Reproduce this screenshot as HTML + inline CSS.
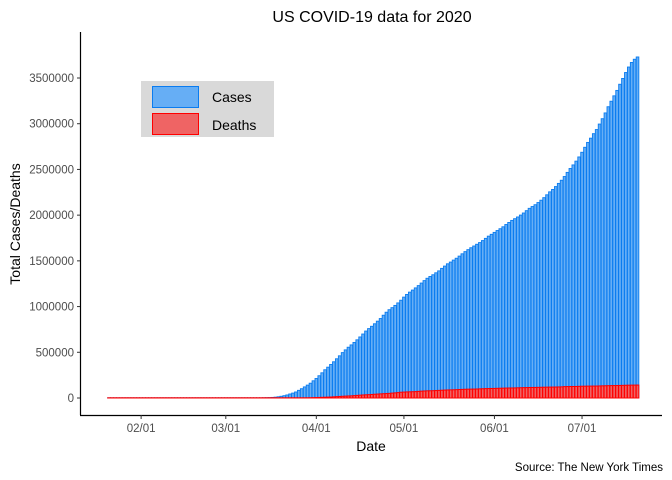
<!DOCTYPE html>
<html><head><meta charset="utf-8"><style>
body{margin:0;background:#fff}
svg{display:block;font-family:"Liberation Sans",sans-serif}
</style></head><body>
<svg id="chart" width="672" height="480">
<text x="372" y="22" text-anchor="middle" font-size="16" fill="#000">US COVID-19 data for 2020</text>
<g id="bars"></g>
<line x1="80.5" y1="32" x2="80.5" y2="415" stroke="#000" stroke-width="1.2"/>
<line x1="80" y1="415.5" x2="662" y2="415.5" stroke="#000" stroke-width="1.2"/>
<g id="yticks"></g>
<g id="xticks"></g>
<text transform="translate(20,224) rotate(-90)" text-anchor="middle" font-size="14">Total Cases/Deaths</text>
<text x="371" y="451" text-anchor="middle" font-size="14">Date</text>
<text x="663" y="471" text-anchor="end" font-size="11.5">Source: The New York Times</text>
<g>
<rect x="141" y="81" width="133" height="56" fill="#d9d9d9"/>
<rect x="152.5" y="86.5" width="46" height="21" fill="#66aef5" stroke="#0a7cf0"/>
<text x="212" y="102" font-size="14">Cases</text>
<rect x="152.5" y="113.5" width="46" height="21" fill="#ef6464" stroke="#f00"/>
<text x="212" y="130" font-size="14">Deaths</text>
</g>
</svg>
<script>
const casesJan = [1,1,1,2,3,5,5,5,5,6,7];
const casesFeb = [8,8,11,11,12,12,12,12,12,12,13,14,15,15,15,15,15,15,15,15,16,16,35,35,53,57,60,60,62];
const casesMar = [75,100,124,158,221,319,435,541,704,994,1301,1697,2247,2943,3680,4663,6411,9197,13357,18890,25196,33276,43847,53740,65778,83836,101657,121465,140909,161831,188172];
const casesApr = [213372,243453,275586,308850,337072,366667,396223,429052,461437,496535,526396,555313,580619,607670,636350,667592,699706,732197,759086,784326,811865,840351,869170,905358,938154,965785,988197,1012582,1039909,1069424];
const casesMay = [1103461,1132539,1158040,1180375,1204351,1229331,1257023,1283929,1309550,1329260,1347881,1369376,1390406,1417774,1442824,1467820,1486757,1508308,1528568,1551853,1577147,1600937,1622670,1643499,1662302,1681418,1699933,1721753,1746019,1770165,1790191];
const casesJun = [1811360,1831821,1851520,1872660,1897380,1920061,1942363,1961185,1979893,2000702,2023347,2048986,2074526,2094058,2114026,2137731,2163290,2191200,2222579,2254754,2280969,2312302,2347102,2381538,2422312,2467554,2510259,2549294,2590668,2636414];
const casesJul = [2687588,2742049,2795361,2841906,2891124,2936077,2996098,3054699,3117946,3185737,3245925,3304942,3364157,3431574,3495000,3560000,3620000,3670000,3705000,3730000];
const deathsJan = [0,0,0,0,0,0,0,0,0,0,0];
const deathsFeb = [0,0,0,0,0,0,0,0,0,0,0,0,0,0,0,0,0,0,0,0,0,0,0,0,0,0,0,0,1];
const deathsMar = [1,6,9,11,12,15,19,22,26,30,38,41,49,57,62,85,108,150,212,270,344,437,574,700,942,1210,1580,2030,2480,3040,4080];
const deathsApr = [5000,6100,7200,8400,9600,10900,12800,14800,16700,18700,20600,22200,23700,26000,28400,30900,33200,35000,36500,38500,41100,43000,45000,46900,48700,50700,53500,56000,59000,63000];
const deathsMay = [64800,66500,67500,68500,69800,72300,74700,76600,78300,79000,79900,81500,83300,85000,86700,87900,88700,89700,91200,92800,94100,95400,96500,97100,97600,98400,99900,101200,102400,103400,104100];
const deathsJun = [104700,105700,106700,107700,108600,109300,109700,110300,111400,112300,113200,114000,114800,115200,115600,116400,117200,117900,118600,119200,119500,119900,120800,121800,124300,125000,125600,125900,126300,127500];
const deathsJul = [128600,129300,129900,130200,130500,130800,131900,132900,133800,134700,135600,136000,136400,137300,138300,139200,140100,140800,141200,141600];
const cases = [].concat(casesJan,casesFeb,casesMar,casesApr,casesMay,casesJun,casesJul);
const deaths = [].concat(deathsJan,deathsFeb,deathsMar,deathsApr,deathsMay,deathsJun,deathsJul);
const yTicks = [0,500000,1000000,1500000,2000000,2500000,3000000,3500000];
const xTickLabels = ["02/01","03/01","04/01","05/01","06/01","07/01"];
const xTickDayOffsets = [11,40,71,101,132,162];

const NS="http://www.w3.org/2000/svg";
const pxPerDay=2.92, x0=109;
function xScale(d){return x0+d*pxPerDay;}
function yScale(v){return 398-v*320/3500000;}
function mk(t,a){const e=document.createElementNS(NS,t);for(const k in a)e.setAttribute(k,a[k]);return e;}
const bars=document.getElementById('bars');
const bw=pxPerDay*0.9;
cases.forEach((v,i)=>{
  const y=yScale(v), h=Math.max(0.2,yScale(0)-y);
  const r=mk('rect',{x:xScale(i)-bw/2,y:yScale(0)-h,width:bw,height:h,fill:'#66aef5',stroke:'#0a7cf0','stroke-width':0.9});
  
  
  bars.appendChild(r);
});
deaths.forEach((v,i)=>{
  const y=yScale(v), h=Math.max(0.2,yScale(0)-y);
  const r=mk('rect',{x:xScale(i)-bw/2,y:yScale(0)-h,width:bw,height:h,fill:'#ef6464',stroke:'#f00','stroke-width':1});
  
  
  bars.appendChild(r);
});
const yt=document.getElementById('yticks');
yTicks.forEach(v=>{
  const y=yScale(v);
  const l=mk('line',{x1:77,x2:80,y1:y,y2:y,stroke:'#333'});
  
  
  yt.appendChild(l);
  const t=mk('text',{x:74,y:y+4,'text-anchor':'end','font-size':11.5,fill:'#4d4d4d'});
  t.textContent=String(v);
  
  
  yt.appendChild(t);
});
const xt=document.getElementById('xticks');
xTickLabels.forEach((lab,i)=>{
  const x=xScale(xTickDayOffsets[i]);
  const l=mk('line',{x1:x,x2:x,y1:415,y2:419,stroke:'#333'});
  
  
  xt.appendChild(l);
  const t=mk('text',{x:x,y:432,'text-anchor':'middle','font-size':11.5,fill:'#4d4d4d'});
  t.textContent=lab;
  
  
  xt.appendChild(t);
});
</script>
</body></html>
